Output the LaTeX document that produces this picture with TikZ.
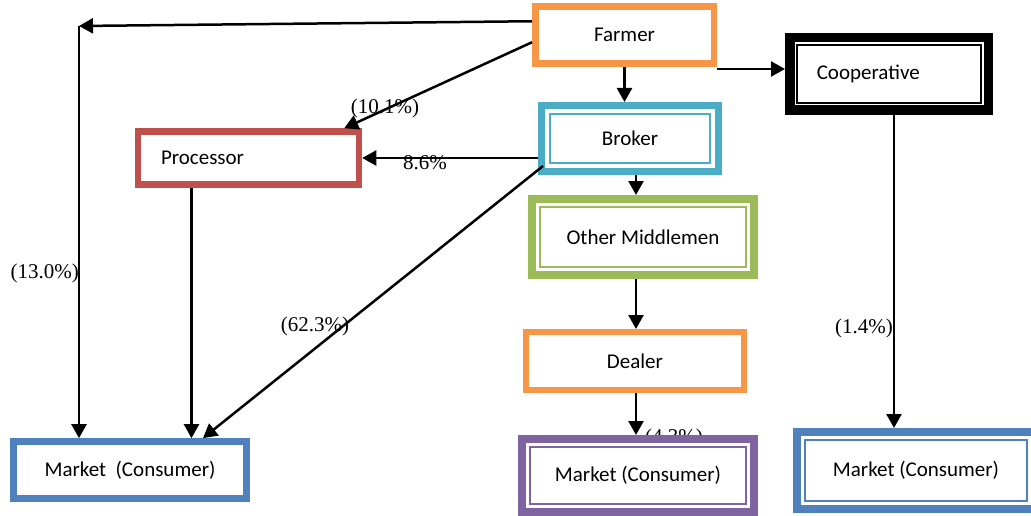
\documentclass[tikz,border=0pt]{standalone}
\usepackage{fontspec}
\setmainfont{Liberation Serif}
\newfontfamily\boxfont{Carlito}
\usetikzlibrary{arrows.meta}
\definecolor{farmorange}{HTML}{F79646}
\definecolor{brokteal}{HTML}{4BACC6}
\definecolor{procred}{HTML}{C0504D}
\definecolor{midgreen}{HTML}{9BBB59}
\definecolor{mktpurple}{HTML}{8064A2}
\definecolor{mktblue}{HTML}{4F81BD}
\tikzset{
 box/.style={draw,fill=white,font=\boxfont\fontsize{21}{25}\selectfont},
 pct/.style={inner sep=0pt,font=\fontsize{21}{25}\selectfont},
 arr/.style={-{Triangle[length=14pt,width=15pt]},line width=2.5pt}
}
\begin{document}
\begin{tikzpicture}[x=1pt,y=-1pt]
 \useasboundingbox (0,0) rectangle (1031,516);
 \clip (0,0) rectangle (1031,516);
 \node[pct,anchor=east] (p130) at (79,273) {(13.0\%)};
 \node[pct] (p101) at (385,108) {(10.1\%)};
 \node[pct] (p86) at (425,163) {8.6\%};
 \node[pct] (p623) at (315,326) {(62.3\%)};
 \node[pct,anchor=east] (p14) at (893,328) {(1.4\%)};
 \node[pct,anchor=base] (p43) at (674,443) {(4.3\%)};
 \node[box,draw=farmorange,line width=6.5pt,minimum width=178.5pt,minimum height=57pt] (farmer) at (624.5,35.25) {Farmer};
 \node[box,draw=black,line width=9.5pt,minimum width=198.5pt,minimum height=72.5pt,inner xsep=27pt,text width=144.5pt,align=left] (coop) at (889,74) {Cooperative};
 \node[box,draw=brokteal,line width=7pt,minimum width=177pt,minimum height=66pt] (broker) at (630,138.5) {Broker};
 \node[box,draw=procred,line width=6.5pt,minimum width=221pt,minimum height=53pt,inner xsep=23pt,text width=175pt,align=left] (proc) at (248.5,158) {Processor};
 \node[box,draw=midgreen,line width=8pt,minimum width=222pt,minimum height=76pt] (mid) at (643,237) {Other Middlemen};
 \node[box,draw=farmorange,line width=6pt,minimum width=218pt,minimum height=58pt] (dealer) at (635,361) {Dealer};
 \node[box,draw=mktblue,line width=6.7pt,minimum width=233pt,minimum height=57pt] (mktl) at (130,470) {Market\ \ (Consumer)};
 \node[box,draw=mktpurple,line width=8pt,minimum width=232pt,minimum height=73pt] (mktm) at (638,475.5) {Market (Consumer)};
 \node[box,draw=mktblue,line width=8pt,minimum width=238pt,minimum height=77pt] (mktr) at (916,470.5) {Market (Consumer)};
 \foreach \n/\c in {coop/black,broker/brokteal,mid/midgreen,mktm/mktpurple,mktr/mktblue}
  \draw[\c,line width=2.5pt] ([xshift=12pt,yshift=-12pt]\n.north west) rectangle ([xshift=-12pt,yshift=12pt]\n.south east);
 \coordinate (corner) at (79,26);
 \coordinate (fc) at ([yshift=-2pt]farmer.south east);
 \draw[arr] ([yshift=14pt]farmer.west) -- (corner);
 \draw[arr] (corner) -- (corner |- mktl.north);
 \draw[arr] ([yshift=-7pt]farmer.west) -- ([xshift=-18pt]proc.north east);
 \draw[arr] (farmer.south) -- (farmer.south |- broker.north);
 \draw[arr] (fc) -- (fc -| coop.west);
 \draw[arr] (broker.west |- proc.east) -- (proc.east);
 \draw[arr] ([xshift=6pt]broker.south) -- ([xshift=6pt]broker.south |- mid.north);
 \draw[arr] ([xshift=5pt,yshift=9pt]broker.south west) -- ([xshift=73pt]mktl.north);
 \draw[arr] ([xshift=-57pt]proc.south) -- ([xshift=-57pt]proc.south |- mktl.north);
 \draw[arr] ([xshift=-7pt]mid.south) -- ([xshift=-7pt]mid.south |- dealer.north);
 \draw[arr] ([xshift=1pt]dealer.south) -- ([xshift=1pt]dealer.south |- mktm.north);
 \draw[arr] ([xshift=5pt]coop.south) -- ([xshift=5pt]coop.south |- mktr.north);
\end{tikzpicture}
\end{document}
